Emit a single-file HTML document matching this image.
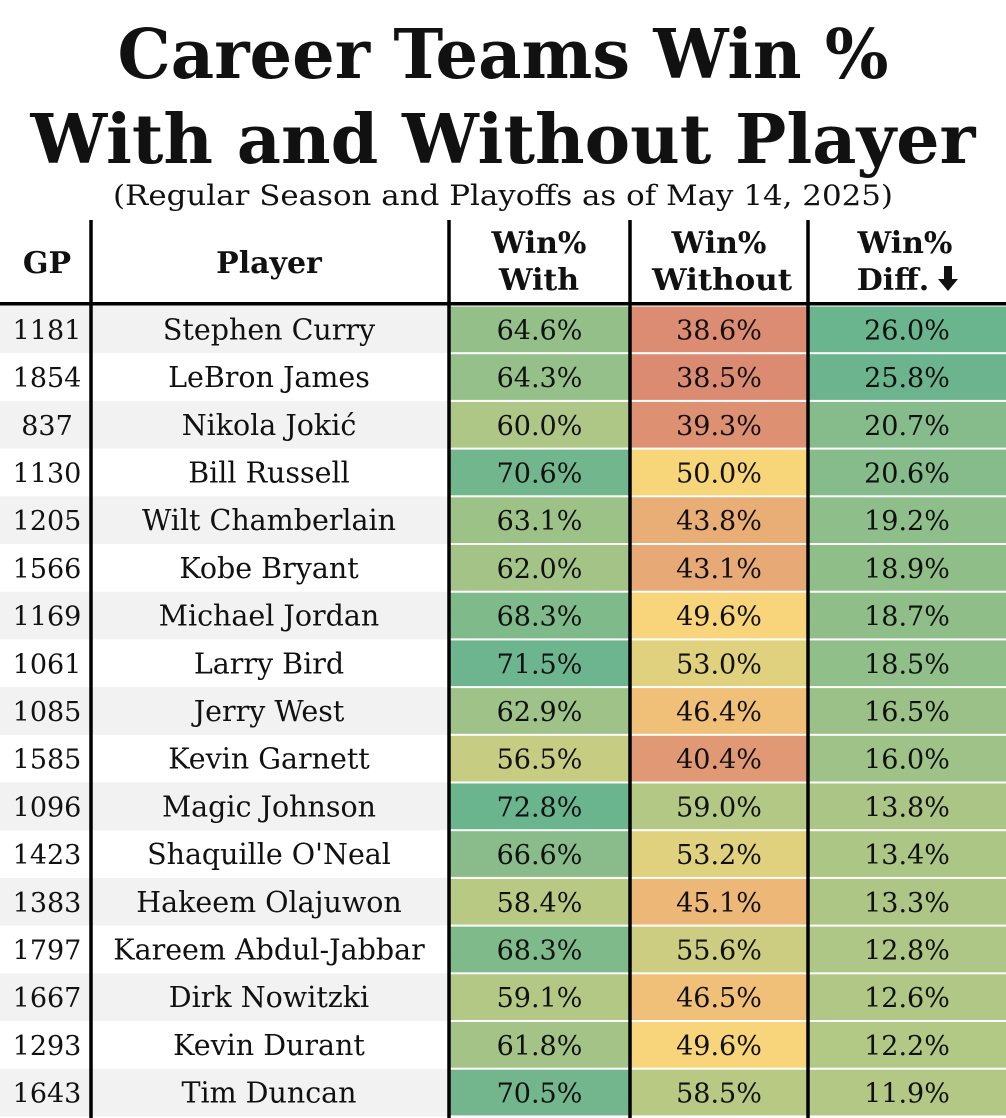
<!DOCTYPE html>
<html><head><meta charset="utf-8">
<style>
html,body{margin:0;padding:0;background:#fff;}
svg{display:block;}
text{font-family:"DejaVu Serif","Liberation Serif",serif;fill:#111;}
</style></head>
<body>
<svg id="chart" width="1006" height="1118" viewBox="0 0 1006 1118" xmlns="http://www.w3.org/2000/svg">
<text x="503" y="78" text-anchor="middle" font-size="68" font-weight="bold" textLength="771" lengthAdjust="spacingAndGlyphs">Career Teams Win %</text>
<text x="503" y="163" text-anchor="middle" font-size="68" font-weight="bold" textLength="945" lengthAdjust="spacingAndGlyphs">With and Without Player</text>
<text x="503" y="205" text-anchor="middle" font-size="28" textLength="780" lengthAdjust="spacingAndGlyphs">(Regular Season and Playoffs as of May 14, 2025)</text>
<g id="header" font-weight="bold" font-size="30">
<text x="47" y="273" text-anchor="middle">GP</text>
<text x="269" y="273" text-anchor="middle">Player</text>
<text x="539" text-anchor="middle"><tspan x="539" y="253">Win%</tspan><tspan x="539" y="290">With</tspan></text>
<text x="719" text-anchor="middle"><tspan x="719" y="253">Win%</tspan><tspan x="722" y="290" textLength="140" lengthAdjust="spacingAndGlyphs">Without</tspan></text>
<text x="905" text-anchor="middle"><tspan x="905" y="253">Win%</tspan><tspan x="893" y="290">Diff.</tspan></text>
<path d="M944 266 h8 v13 h6 l-10 12 l-10 -12 h6 z" fill="#111"/>
</g>
<g id="rows"></g>
<g id="lines"></g>
</svg>
<script>
const gp=[1181,1854,837,1130,1205,1566,1169,1061,1085,1585,1096,1423,1383,1797,1667,1293,1643];
const players=["Stephen Curry","LeBron James","Nikola Jokić","Bill Russell","Wilt Chamberlain","Kobe Bryant","Michael Jordan","Larry Bird","Jerry West","Kevin Garnett","Magic Johnson","Shaquille O'Neal","Hakeem Olajuwon","Kareem Abdul-Jabbar","Dirk Nowitzki","Kevin Durant","Tim Duncan"];
const winWith=[64.6,64.3,60.0,70.6,63.1,62.0,68.3,71.5,62.9,56.5,72.8,66.6,58.4,68.3,59.1,61.8,70.5];
const winWithout=[38.6,38.5,39.3,50.0,43.8,43.1,49.6,53.0,46.4,40.4,59.0,53.2,45.1,55.6,46.5,49.6,58.5];
const winDiff=[26.0,25.8,20.7,20.6,19.2,18.9,18.7,18.5,16.5,16.0,13.8,13.4,13.3,12.8,12.6,12.2,11.9];

const NS="http://www.w3.org/2000/svg";
const stops=[[38.5,[220,139,115]],[49.8,[248,214,122]],[59,[180,200,133]],[72,[106,180,142]]];
function color(v){
  if(v<=stops[0][0]) return 'rgb('+stops[0][1]+')';
  for(let i=1;i<stops.length;i++){
    if(v<=stops[i][0]){
      const a=stops[i-1],b=stops[i],t=(v-a[0])/(b[0]-a[0]);
      return 'rgb('+a[1].map((c,k)=>Math.round(c+(b[1][k]-c)*t)).join(',')+')';
    }
  }
  return 'rgb('+stops[stops.length-1][1]+')';
}
function diffToScale(d){return 59+(d-11.9)/(26-11.9)*13;}
const top0=305.5, rh=47.7;
function rowY(i){return top0+i*rh;}
const rows=document.getElementById('rows');
function mk(tag,attrs,parent){const e=document.createElementNS(NS,tag);for(const k in attrs)e.setAttribute(k,attrs[k]);parent.appendChild(e);return e;}
const cols=[{x:0,w:91},{x:91,w:358},{x:449,w:181},{x:630,w:178},{x:808,w:198}];
for(let i=0;i<gp.length;i++){
  const y=rowY(i);
  const g=mk('g',{},rows);
  
  
  if(i%2===0){mk('rect',{x:0,y:y,width:449,height:rh,fill:'#f2f2f2'},g);}
  const vals=[winWith[i],winWithout[i],diffToScale(winDiff[i])];
  const labels=[winWith[i].toFixed(1)+'%',winWithout[i].toFixed(1)+'%',winDiff[i].toFixed(1)+'%'];
  const names=['cell-with','cell-without','cell-diff'];
  for(let c=0;c<3;c++){
    const col=cols[c+2];
    const r=mk('rect',{x:col.x,y:y+1,width:col.w,height:rh-2,fill:color(vals[c])},g);
    
    
    const t=mk('text',{x:col.x+col.w/2,y:y+rh/2+10,'text-anchor':'middle','font-size':27},g);
    
    
    t.textContent=labels[c];
  }
  const t1=mk('text',{x:47,y:y+rh/2+10,'text-anchor':'middle','font-size':27},g);
  
  
  t1.textContent=gp[i];
  const t2=mk('text',{x:269,y:y+rh/2+10,'text-anchor':'middle','font-size':28.5},g);
  
  
  t2.textContent=players[i];
  const bb=t2.getBBox(); if(bb.width>328){t2.setAttribute('textLength',328);t2.setAttribute('lengthAdjust','spacingAndGlyphs');}
}
const lines=document.getElementById('lines');
[91,449,630,808].forEach(x=>{
  const l=mk('rect',{x:x-1.75,y:220,width:3.5,height:898,fill:'#000'},lines);
  
  
});
const h=mk('rect',{x:0,y:302,width:1006,height:3.5,fill:'#000'},lines);


</script>
</body></html>
